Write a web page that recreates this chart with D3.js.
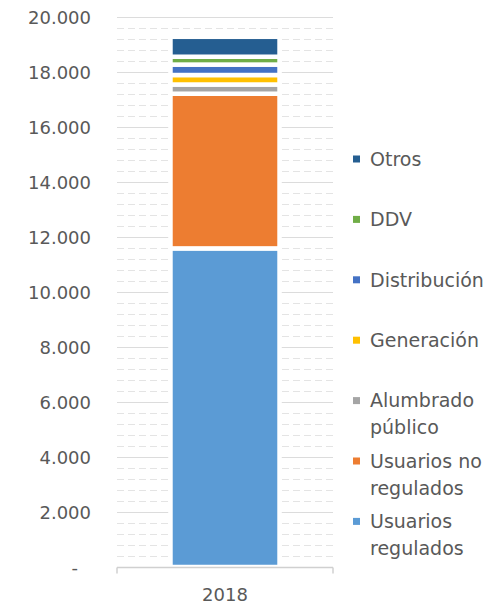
<!DOCTYPE html>
<html>
<head>
<meta charset="utf-8">
<script src="https://cdn.jsdelivr.net/npm/d3@7"></script>
<style>
  body { margin: 0; background: #fff; }
  text { font-family: "DejaVu Sans", sans-serif; fill: #595959; }
</style>
</head>
<body>
<svg id="chart" width="491" height="604"></svg>
<script>
// data
var years = ["2018"];
var series = ["Usuarios regulados", "Usuarios no regulados", "Alumbrado público", "Generación", "Distribución", "DDV", "Otros"];
var values2018 = [11585, 5625, 335, 345, 380, 285, 725];
var colors = ["#5b9bd5", "#ed7d31", "#a5a5a5", "#ffc000", "#4472c4", "#70ad47", "#255e91"];
var legendLines = [["Usuarios", "regulados"], ["Usuarios no", "regulados"], ["Alumbrado", "público"], ["Generación"], ["Distribución"], ["DDV"], ["Otros"]];
var yTicks = [0, 2000, 4000, 6000, 8000, 10000, 12000, 14000, 16000, 18000, 20000];

var svg = d3.select("#chart");

// plot box (window.top is reserved, so no "top" here)
var plotLeft = 117, plotRight = 333, plotTop = 17, plotBottom = 567;

var y = d3.scaleLinear().domain([0, 20000]).range([plotBottom, plotTop]);
var x = d3.scaleBand().domain(years).range([plotLeft, plotRight]).paddingInner(0.329).paddingOuter(0.329);

var loc = d3.formatLocale({ decimal: ",", thousands: ".", grouping: [3], currency: ["", ""] });
var fmt = loc.format(",.0f");

// minor dashed grid every 400
var minor = d3.range(400, 20000, 400).filter(function (v) { return v % 2000 !== 0; });
svg.append("g")
    .selectAll("line")
    .data(minor)
    .join("line")
    .attr("x1", plotLeft)
    .attr("x2", plotRight)
    .attr("y1", function (d) { return Math.round(y(d)) + 0.5; })
    .attr("y2", function (d) { return Math.round(y(d)) + 0.5; })
    .style("stroke", "#e4e4e4")
    .style("stroke-width", 1)
    .style("stroke-dasharray", "7,4");

// major grid
svg.append("g")
    .selectAll("line")
    .data(yTicks.slice(1))
    .join("line")
    .attr("x1", plotLeft)
    .attr("x2", plotRight)
    .attr("y1", function (d) { return Math.round(y(d)) + 0.5; })
    .attr("y2", function (d) { return Math.round(y(d)) + 0.5; })
    .style("stroke", "#dcdcdc")
    .style("stroke-width", 1.2);

// stacked bar
var table = years.map(function (yr) {
    var row = { year: yr };
    series.forEach(function (s, i) { row[s] = values2018[i]; });
    return row;
});
var stacked = d3.stack().keys(series)(table);

svg.append("g")
    .selectAll("g")
    .data(stacked)
    .join("g")
    .style("fill", function (d, i) { return colors[i]; })
    .selectAll("rect")
    .data(function (d) { return d; })
    .join("rect")
    .attr("x", function (d) { return x(d.data.year); })
    .attr("width", x.bandwidth())
    .attr("y", function (d) { return y(d[1]); })
    .attr("height", function (d) { return y(d[0]) - y(d[1]); })
    .style("stroke", "#fff")
    .style("stroke-width", 4.5);

// y axis labels
var yAxis = d3.axisLeft(y)
    .tickValues(yTicks)
    .tickSize(0)
    .tickPadding(26)
    .tickFormat(function (d) { return d === 0 ? "-" : fmt(d); });

var gy = svg.append("g")
    .attr("transform", "translate(" + plotLeft + ",0)")
    .call(yAxis);
gy.select(".domain").remove();
gy.selectAll("text")
    .style("font-size", "18px")
    .style("font-family", "DejaVu Sans, sans-serif")
    .style("fill", "#595959")
    .attr("dy", "0.36em")
    .attr("dx", function (d) { return d === 0 ? -13 : 0; });

// x axis
var gx = svg.append("g")
    .attr("transform", "translate(0," + (plotBottom + 0.5) + ")");
gx.append("line")
    .attr("x1", plotLeft)
    .attr("x2", plotRight)
    .style("stroke", "#d0d0d0")
    .style("stroke-width", 1.5);
gx.selectAll(".edge")
    .data([plotLeft, plotRight])
    .join("line")
    .attr("class", "edge")
    .attr("x1", function (d) { return d; })
    .attr("x2", function (d) { return d; })
    .attr("y1", 0)
    .attr("y2", 6)
    .style("stroke", "#d0d0d0")
    .style("stroke-width", 1.5);
gx.selectAll(".lbl")
    .data(years)
    .join("text")
    .attr("class", "lbl")
    .attr("x", function (d) { return x(d) + x.bandwidth() / 2; })
    .attr("y", 27)
    .attr("dy", "0.36em")
    .attr("text-anchor", "middle")
    .style("font-size", "18px")
    .text(function (d) { return d; });

// legend, top entry is last series
var legend = svg.append("g");
var order = d3.range(series.length).reverse();
var entry = legend.selectAll("g")
    .data(order)
    .join("g")
    .attr("transform", function (d, i) { return "translate(353," + (159 + i * 60.4) + ")"; });
entry.append("rect")
    .attr("x", 0)
    .attr("y", -3.5)
    .attr("width", 7)
    .attr("height", 7)
    .style("fill", function (d) { return colors[d]; });
entry.selectAll("text")
    .data(function (d) { return legendLines[d]; })
    .join("text")
    .attr("x", 17)
    .attr("y", function (d, j) { return j * 27; })
    .attr("dy", "0.36em")
    .style("font-size", "19px")
    .text(function (d) { return d; });
</script>
</body>
</html>
